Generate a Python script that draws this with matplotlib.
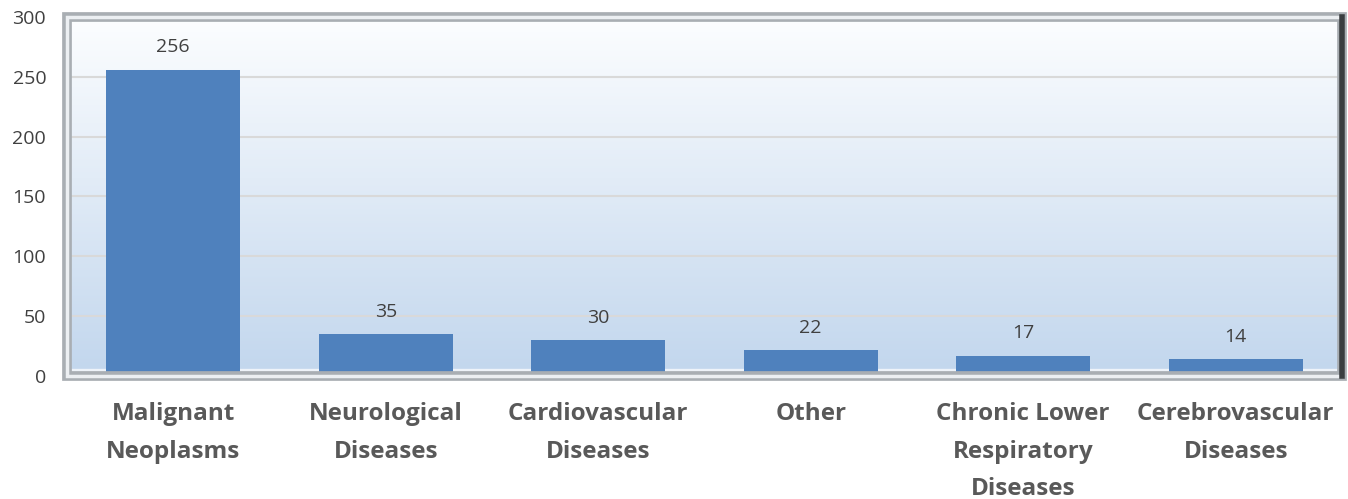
import numpy as np
import matplotlib as mpl
mpl.use('Agg')
import matplotlib.pyplot as plt
from matplotlib.patches import Rectangle

categories = ["Malignant\nNeoplasms", "Neurological\nDiseases", "Cardiovascular\nDiseases",
              "Other", "Chronic Lower\nRespiratory\nDiseases", "Cerebrovascular\nDiseases"]
values = [256, 35, 30, 22, 17, 14]
yticks = [0, 50, 100, 150, 200, 250, 300]

plt.rcParams['font.family'] = ['Open Sans', 'DejaVu Sans']

fig = plt.figure(figsize=(13.48, 4.99), dpi=100)
ax = fig.add_axes([0.0497, 0.2465, 0.9458, 0.7195])

# gradient background: white at top to light blue at bottom
grad = np.linspace(0, 1, 256).reshape(-1, 1)
top = np.array([0.99, 0.995, 1.0])
bot = np.array([0.76, 0.84, 0.93])
img = top + (bot - top) * grad[..., None]
ax.imshow(img, extent=[-0.5, 5.5, 0, 300], aspect='auto', zorder=0)
# light floor strip
ax.axhspan(0, 6, color='#eef3f9', zorder=0.5)

x = np.arange(len(values))
ax.set_xlim(-0.5, 5.5)
ax.set_ylim(0, 300)
for y in yticks[1:-1]:
    ax.axhline(y, color='#d9d9d9', lw=1.5, zorder=1)

ax.bar(x, values, width=0.63, color='#4f81bd', zorder=3)
for xi, v in zip(x, values):
    ax.text(xi, v + 11, str(v), ha='center', va='bottom', fontsize=14, color='#404040', zorder=4)

# bevel frame
ax.add_patch(Rectangle((0, 0), 1, 1, transform=ax.transAxes, fill=False,
                       ec='#a9aeb3', lw=7, zorder=5, clip_on=False))
ax.add_patch(Rectangle((0, 0), 1, 1, transform=ax.transAxes, fill=False,
                       ec='#eceff2', lw=2.5, zorder=6, clip_on=False))
ax.plot([1, 1], [0, 1], transform=ax.transAxes, color='#3a3d40', lw=4, zorder=7, clip_on=False)

ax.set_yticks(yticks)
ax.set_yticklabels([str(t) for t in yticks], fontsize=14, color='#404040')
ax.set_xticks(x)
ax.set_xticklabels(categories, fontsize=17.5, fontweight='bold', color='#595959', linespacing=1.73)
ax.tick_params(axis='both', length=0)
ax.tick_params(axis='x', pad=19)
ax.tick_params(axis='y', pad=15)
for s in ax.spines.values():
    s.set_visible(False)

plt.savefig("out.png", dpi=100)
